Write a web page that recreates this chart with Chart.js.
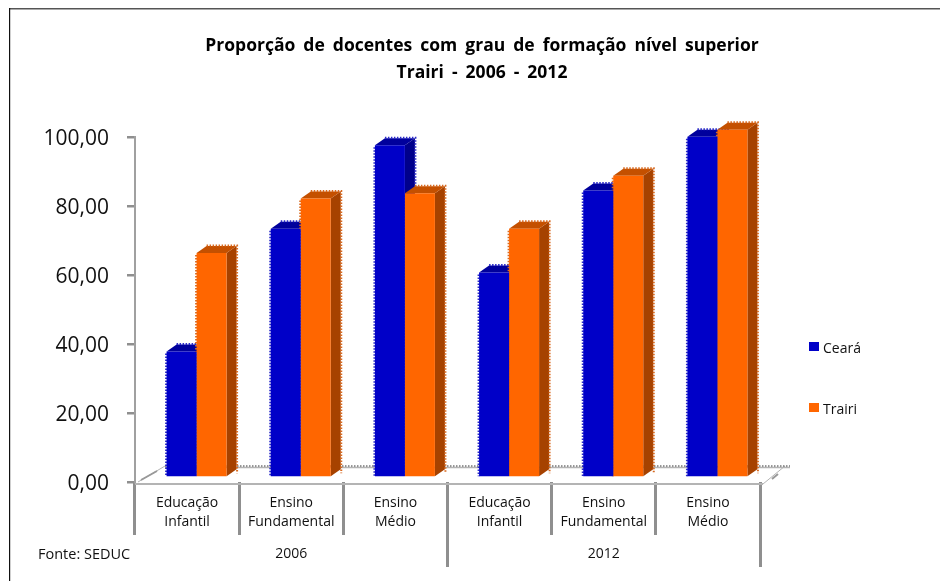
<!DOCTYPE html>
<html>
<head>
<meta charset="utf-8">
<style>
  html, body { margin: 0; padding: 0; background: #fff; }
  #wrap { width: 940px; height: 581px; }
</style>
<script src="https://cdn.jsdelivr.net/npm/chart.js@4"></script>
</head>
<body>
<div id="wrap"><canvas id="chart"></canvas></div>
<script>
const categories = [['Educação', 'Infantil'], ['Ensino', 'Fundamental'], ['Ensino', 'Médio'],
                    ['Educação', 'Infantil'], ['Ensino', 'Fundamental'], ['Ensino', 'Médio']];
const years = ['2006', '2012'];
const ceara = [36.5, 72.1, 96.3, 59.4, 83.2, 98.8];
const trairi = [65.1, 80.9, 82.4, 72.1, 87.5, 100.8];
const titleLines = ['Proporção de docentes com grau de formação nível superior', 'Trairi - 2006 - 2012'];
const sourceText = 'Fonte: SEDUC';

const FONT = '"Open Sans", sans-serif';
const GRAY = '#8f8f8f';
const BLUE = { front: '#0000c8', side: '#00008c', top: '#00009c', edge: '#2a2ac8' };
const ORANGE = { front: '#ff6600', side: '#a64200', top: '#c45000', edge: '#d86a20' };

// bars stand a little inside the floor, and have a fake depth
const SHIFT_X = 9.5, SHIFT_Y = -4.5;
const DEPTH_X = 10, DEPTH_Y = -7;

function drawDepth(ctx, bar, col) {
    const half = bar.width / 2;
    const l = bar.x - half, r = bar.x + half, t = bar.y, b = bar.base;
    // side
    ctx.fillStyle = col.side;
    ctx.beginPath();
    ctx.moveTo(r, t); ctx.lineTo(r + DEPTH_X, t + DEPTH_Y);
    ctx.lineTo(r + DEPTH_X, b + DEPTH_Y); ctx.lineTo(r, b);
    ctx.closePath(); ctx.fill();
    // top
    ctx.fillStyle = col.top;
    ctx.beginPath();
    ctx.moveTo(l, t); ctx.lineTo(l + DEPTH_X, t + DEPTH_Y);
    ctx.lineTo(r + DEPTH_X, t + DEPTH_Y); ctx.lineTo(r, t);
    ctx.closePath(); ctx.fill();
    // jagged outer edge
    ctx.save();
    ctx.strokeStyle = col.edge;
    ctx.lineWidth = 2;
    ctx.setLineDash([1.5, 1.5]);
    ctx.beginPath();
    ctx.moveTo(l + DEPTH_X, t + DEPTH_Y - 0.5);
    ctx.lineTo(r + DEPTH_X + 0.5, t + DEPTH_Y - 0.5);
    ctx.lineTo(r + DEPTH_X + 0.5, b + DEPTH_Y + 4);
    ctx.moveTo(l - 0.5, t + 2);
    ctx.lineTo(l - 0.5, b);
    ctx.stroke();
    ctx.restore();
}

const depthPlugin = {
    id: 'depth',
    // blue depth goes first so the orange bars cover it
    beforeDatasetsDraw(chart) {
        const ctx = chart.ctx;
        ctx.save();
        ctx.translate(SHIFT_X, SHIFT_Y);
        chart.getDatasetMeta(0).data.forEach(bar => drawDepth(ctx, bar, BLUE));
        chart.getDatasetMeta(1).data.forEach(bar => drawDepth(ctx, bar, ORANGE));
        ctx.restore();
    },
    beforeDatasetDraw(chart) {
        chart.ctx.save();
        chart.ctx.translate(SHIFT_X, SHIFT_Y);
    },
    afterDatasetDraw(chart) {
        chart.ctx.restore();
    }
};

const floorPlugin = {
    id: 'floor',
    beforeDatasetsDraw(chart) {
        const ctx = chart.ctx;
        const a = chart.chartArea;
        const frontY = a.bottom + 2, backY = a.bottom - 16;
        ctx.save();
        ctx.strokeStyle = '#b4b4b4';
        ctx.lineWidth = 2;
        ctx.beginPath();
        ctx.moveTo(a.left, frontY); ctx.lineTo(a.right + 3, frontY);
        ctx.stroke();
        ctx.lineWidth = 1;
        ctx.beginPath();
        ctx.moveTo(a.left + 3, a.bottom); ctx.lineTo(a.left + 30, backY);
        ctx.moveTo(a.right + 3, frontY); ctx.lineTo(a.right + 25, backY);
        ctx.stroke();
        // darker bits on the floor corners
        ctx.strokeStyle = '#999';
        ctx.lineWidth = 2;
        ctx.beginPath();
        ctx.moveTo(a.left + 6, a.bottom - 2); ctx.lineTo(a.left + 22, a.bottom - 11);
        ctx.moveTo(a.right + 12, a.bottom - 3); ctx.lineTo(a.right + 18, a.bottom - 8);
        ctx.stroke();
        ctx.strokeStyle = '#b4b4b4';
        ctx.lineWidth = 1.5;
        ctx.beginPath();
        ctx.moveTo(a.left + 30, backY + 1.5); ctx.lineTo(a.right + 30, backY + 1.5);
        ctx.stroke();
        ctx.strokeStyle = '#777';
        ctx.setLineDash([1.5, 1.5]);
        ctx.beginPath();
        ctx.moveTo(a.left + 30, backY); ctx.lineTo(a.right + 30, backY);
        ctx.stroke();
        ctx.restore();
    }
};

const textPlugin = {
    id: 'texts',
    afterDraw(chart) {
        const ctx = chart.ctx;
        ctx.save();
        // frame
        ctx.fillStyle = '#555';
        ctx.fillRect(9, 8, 931, 1.5);
        ctx.fillStyle = '#111';
        ctx.fillRect(9, 8, 1.2, 573);
        // title
        ctx.fillStyle = '#000';
        ctx.textAlign = 'center';
        ctx.textBaseline = 'middle';
        ctx.font = 'bold 17.5px ' + FONT;
        ctx.wordSpacing = '3.5px';
        ctx.fillText(titleLines[0], 482, 46);
        ctx.fillText(titleLines[1], 482, 73);
        ctx.wordSpacing = '0px';
        // source
        ctx.textAlign = 'left';
        ctx.font = '14.5px ' + FONT;
        ctx.fillStyle = '#111';
        ctx.fillText(sourceText, 38, 555);
        // legend
        ctx.font = '14px ' + FONT;
        chart.data.datasets.forEach((ds, i) => {
            const y = 347 + i * 61;
            ctx.fillStyle = ds.backgroundColor;
            ctx.fillRect(809, y - 5, 10, 9);
            ctx.fillStyle = '#111';
            ctx.fillText(ds.label, 823, y + 2);
        });
        ctx.restore();
    }
};

new Chart(document.getElementById('chart'), {
    type: 'bar',
    data: {
        labels: categories,
        datasets: [
            { label: 'Ceará', data: ceara, backgroundColor: BLUE.front, clip: false,
              categoryPercentage: 0.576, barPercentage: 1 },
            { label: 'Trairi', data: trairi, backgroundColor: ORANGE.front, clip: false,
              categoryPercentage: 0.576, barPercentage: 1 }
        ]
    },
    options: {
        responsive: true,
        maintainAspectRatio: false,
        animation: false,
        layout: { padding: { left: 20, right: 180, top: 137, bottom: 14 } },
        plugins: { legend: { display: false }, title: { display: false }, tooltip: { enabled: false } },
        scales: {
            y: {
                min: 0,
                max: 100,
                afterFit: s => { s.width = 115; },
                border: { color: '#a0a0a0', width: 2 },
                grid: { drawOnChartArea: false, color: GRAY, lineWidth: 2.5, tickLength: 8 },
                ticks: {
                    stepSize: 20,
                    padding: 18,
                    labelOffset: 2,
                    color: '#111',
                    font: { family: FONT, size: 21 },
                    callback: v => v.toFixed(2).replace('.', ',')
                }
            },
            x: {
                afterFit: s => { s.height = 53; },
                border: { display: false },
                grid: { offset: true, drawOnChartArea: false, color: GRAY, lineWidth: 3, tickLength: 53 },
                ticks: {
                    padding: -41,
                    maxRotation: 0,
                    autoSkip: false,
                    color: '#111',
                    font: { family: FONT, size: 14, lineHeight: 1.35 }
                }
            },
            x2: {
                type: 'category',
                labels: years,
                position: 'bottom',
                afterFit: s => { s.height = 32; },
                border: { display: false },
                grid: {
                    offset: true,
                    drawOnChartArea: false,
                    color: ctx => ctx.index === 0 ? 'rgba(0,0,0,0)' : GRAY,
                    lineWidth: 3,
                    tickLength: 32
                },
                ticks: {
                    padding: -21,
                    color: '#111',
                    font: { family: FONT, size: 14 }
                }
            }
        }
    },
    plugins: [floorPlugin, depthPlugin, textPlugin]
});
</script>
</body>
</html>
